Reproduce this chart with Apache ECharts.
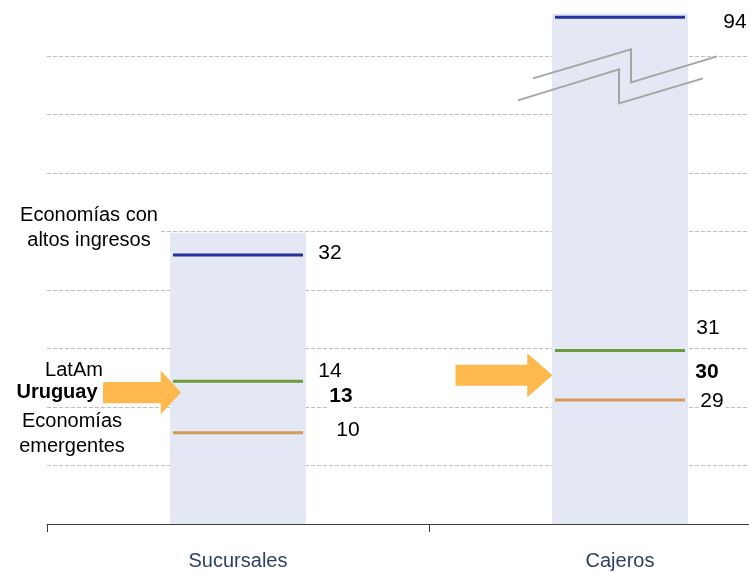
<!DOCTYPE html>
<html>
<head>
<meta charset="utf-8">
<script src="https://cdn.jsdelivr.net/npm/echarts@6/dist/echarts.min.js"></script>
<style>
  html, body { margin: 0; padding: 0; background: #ffffff; }
  #chart { width: 749px; height: 573px; }
</style>
</head>
<body>
<div id="chart"></div>
<script>
// Access points per 100,000 adults: [Sucursales, Cajeros]
const categories = ['Sucursales', 'Cajeros'];
const groupNames = ['Economías con\naltos ingresos', 'LatAm', 'Economías\nemergentes'];
const altosIngresos = [32, 94];
const latAm = [14, 31];
const emergentes = [10, 29];
const uruguayName = 'Uruguay';
const uruguay = [13, 30];
// Upper edge of the shaded range band behind each category
const bandTop = [37, 94.15];
// Number of evenly spaced background grid steps
const gridSteps = 9;

const FONT = '"Liberation Sans", Arial, Helvetica, sans-serif';
const BAND = '#E3E8F4';
const LINE_COLORS = ['#25309A', '#6B9B3A', '#D59B59'];
const ARROW = '#FDB94E';
const TEXT = '#000000';
const ARROW_PATH = 'path://M0,26 L74,26 L74,0 L100,50 L74,100 L74,74 L0,74 Z';

const groupValues = [altosIngresos, latAm, emergentes];

const chart = echarts.init(document.getElementById('chart'), null, { renderer: 'canvas' });

// Horizontal marker lines for one category, with the value printed to the right
function markerSeries(catIdx, yAxisIndex, labelShifts) {
  return {
    type: 'scatter',
    xAxisIndex: 0,
    yAxisIndex: yAxisIndex,
    symbol: 'rect',
    symbolSize: [130, 3],
    silent: true,
    z: 4,
    itemStyle: { opacity: 1 },
    label: {
      show: true,
      position: 'inside',
      formatter: function (p) { return String(p.value[1]); },
      color: TEXT,
      opacity: 1,
      fontFamily: FONT,
      fontSize: 21,
      backgroundColor: '#ffffff',
      padding: [0, 2]
    },
    data: groupValues.map(function (vals, i) {
      return {
        value: [catIdx, vals[catIdx]],
        itemStyle: { color: LINE_COLORS[i], opacity: 1 },
        label: { offset: labelShifts[i] }
      };
    })
  };
}

// Invisible anchors used to place text next to the marks
function anchorSeries(yAxisIndex, items) {
  return {
    type: 'scatter',
    xAxisIndex: 0,
    yAxisIndex: yAxisIndex,
    symbol: 'rect',
    symbolSize: [1, 1],
    itemStyle: { color: 'rgba(0,0,0,0)' },
    silent: true,
    z: 6,
    label: {
      show: true,
      position: 'inside',
      color: TEXT,
      opacity: 1,
      fontFamily: FONT,
      fontSize: 20,
      lineHeight: 25,
      backgroundColor: '#ffffff',
      padding: [0, 1]
    },
    data: items
  };
}

function arrowSeries(catIdx, yAxisIndex, size, offsetX) {
  return {
    type: 'scatter',
    xAxisIndex: 0,
    yAxisIndex: yAxisIndex,
    symbol: ARROW_PATH,
    symbolSize: size,
    itemStyle: { color: ARROW, opacity: 1 },
    silent: true,
    z: 5,
    data: [{ value: [catIdx, uruguay[catIdx]], symbolOffset: [offsetX, 0] }]
  };
}

const option = {
  animation: false,
  backgroundColor: '#ffffff',
  textStyle: { fontFamily: FONT },
  grid: {
    left: 47, right: -62, top: -2.5, bottom: 49,
    containLabel: false,
    outerBoundsMode: 'none'
  },
  xAxis: [{
    type: 'category',
    data: categories,
    boundaryGap: true,
    axisLine: { show: true, lineStyle: { color: '#3C3C3C', width: 1 } },
    axisTick: { show: true, length: 8, interval: 0, lineStyle: { color: '#3C3C3C', width: 1 } },
    axisLabel: { color: '#2F4068', fontSize: 20, fontFamily: FONT, margin: 27 },
    splitLine: { show: false }
  }],
  yAxis: [
    {
      // background grid
      type: 'value',
      min: 0, max: gridSteps, interval: 1,
      axisLine: { show: false }, axisTick: { show: false }, axisLabel: { show: false },
      splitLine: { show: true, lineStyle: { color: '#BDBDBD', width: 1, type: [4, 2] } }
    },
    {
      // Sucursales scale
      type: 'log', logBase: 10, min: 5.5, max: 172.6,
      show: false,
      splitLine: { show: false }
    },
    {
      // Cajeros scale, with a break between the regional values and the high-income level
      type: 'value', min: 24, max: 94.8,
      show: false,
      splitLine: { show: false },
      breaks: [{ start: 33, end: 93, gap: 10.43 }],
      breakArea: { show: false }
    }
  ],
  series: [
    {
      type: 'bar', xAxisIndex: 0, yAxisIndex: 1,
      data: [bandTop[0], '-'],
      barWidth: 136, barGap: '-100%',
      itemStyle: { color: BAND }, silent: true, z: 2
    },
    {
      type: 'bar', xAxisIndex: 0, yAxisIndex: 2,
      data: ['-', bandTop[1]],
      barWidth: 136, barGap: '-100%',
      itemStyle: { color: BAND }, silent: true, z: 2
    },
    arrowSeries(0, 1, [78, 44], -96),
    arrowSeries(1, 2, [97, 44], -116),
    markerSeries(0, 1, [[92, -2], [92, -10], [110, -2]]),
    markerSeries(1, 2, [[115, 5], [88, -22], [92, 1]]),
    anchorSeries(1, [
      { value: [0, altosIngresos[0]], label: { formatter: groupNames[0], offset: [-149, -27] } },
      { value: [0, latAm[0]], label: { formatter: groupNames[1], offset: [-164, -11] } },
      { value: [0, emergentes[0]], label: { formatter: groupNames[2], offset: [-166, 1] } },
      { value: [0, uruguay[0]], label: { formatter: uruguayName, offset: [-181, 0], fontWeight: 'bold', fontSize: 20 } },
      { value: [0, uruguay[0]], label: { formatter: String(uruguay[0]), offset: [103, 4], fontWeight: 'bold', fontSize: 21 } }
    ]),
    anchorSeries(2, [
      { value: [1, uruguay[1]], label: { formatter: String(uruguay[1]), offset: [87, -3], fontWeight: 'bold', fontSize: 21 } }
    ])
  ]
};

chart.setOption(option);

// Axis-break marker drawn across the Cajeros band, just under the high-income line
const cx = chart.convertToPixel({ xAxisIndex: 0 }, 1);
const cy = chart.convertToPixel({ yAxisIndex: 2 }, altosIngresos[1]);
function zig(points) {
  return {
    type: 'polyline',
    silent: true,
    z: 10,
    shape: { points: points.map(function (p) { return [cx + p[0], cy + p[1]]; }) },
    style: { stroke: '#A6A6A6', lineWidth: 2, fill: null }
  };
}
chart.setOption({
  graphic: [
    zig([[-87, 61], [11, 32], [11, 65], [97, 39]]),
    zig([[-102, 83], [-1, 52], [-1, 86], [83, 61]])
  ]
});
</script>
</body>
</html>
